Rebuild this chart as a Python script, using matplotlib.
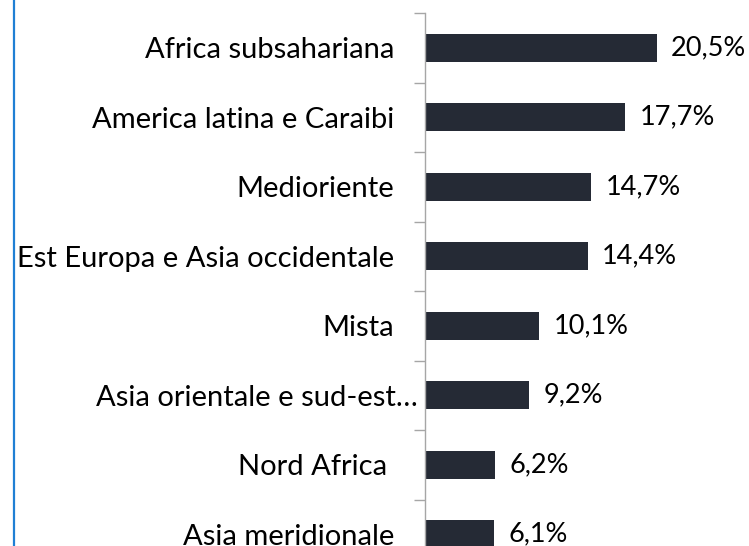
import matplotlib
matplotlib.use("Agg")
import matplotlib.pyplot as plt
import matplotlib.transforms as mtransforms
from matplotlib.lines import Line2D

# dati (dall'alto verso il basso)
regioni = [
    "Africa subsahariana",
    "America latina e Caraibi",
    "Medioriente",
    "Est Europa e Asia occidentale",
    "Mista",
    "Asia orientale e sud-est…",
    "Nord Africa ",
    "Asia meridionale",
]
quote = [20.5, 17.7, 14.7, 14.4, 10.1, 9.2, 6.2, 6.1]
etichette = ["20,5%", "17,7%", "14,7%", "14,4%", "10,1%", "9,2%", "6,2%", "6,1%"]

plt.rcParams["font.family"] = ["Lato", "DejaVu Sans"]

W, H = 749, 546
fig = plt.figure(figsize=(W / 100, H / 100), dpi=100)
fig.patch.set_facecolor("white")

# asse: parte da y=13 px e prosegue oltre il bordo inferiore (grafico tagliato)
left = 425 / W
top = 1 - 13 / H
height = 556 / H
ax = fig.add_axes([left, top - height, 1 - left, height])

n = len(regioni)
pos = list(range(n))
ax.barh(pos, quote, height=0.4, color="#252a35")
ax.set_ylim(n - 0.5, -0.5)
ax.set_xlim(0, 324 / 11.32)

for p, q, t in zip(pos, quote, etichette):
    ax.annotate(t, (q, p), xytext=(14, 0), textcoords="offset pixels",
                ha="left", va="center", fontsize=19.5, color="black")

ax.set_yticks(pos)
ax.set_yticklabels(regioni, fontsize=21)
ax.tick_params(axis="y", length=0, pad=22)
ax.set_yticks([i - 0.5 for i in range(n + 1)], minor=True)
ax.tick_params(axis="y", which="minor", length=8, color="#a6a6a6", width=1)
ax.set_xticks([])
for s in ["top", "right", "bottom"]:
    ax.spines[s].set_visible(False)
ax.spines["left"].set_color("#a6a6a6")
ax.spines["left"].set_linewidth(1)

# l'etichetta troncata sborda verso destra
lab = ax.get_yticklabels()[5]
lab.set_transform(lab.get_transform() + mtransforms.Affine2D().translate(23, 0))

# linea blu sul bordo sinistro
fig.add_artist(Line2D([14 / W, 14 / W], [0, 1], transform=fig.transFigure,
                      color="#1f7fd4", linewidth=1.6))

fig.savefig("out.png", dpi=100)
